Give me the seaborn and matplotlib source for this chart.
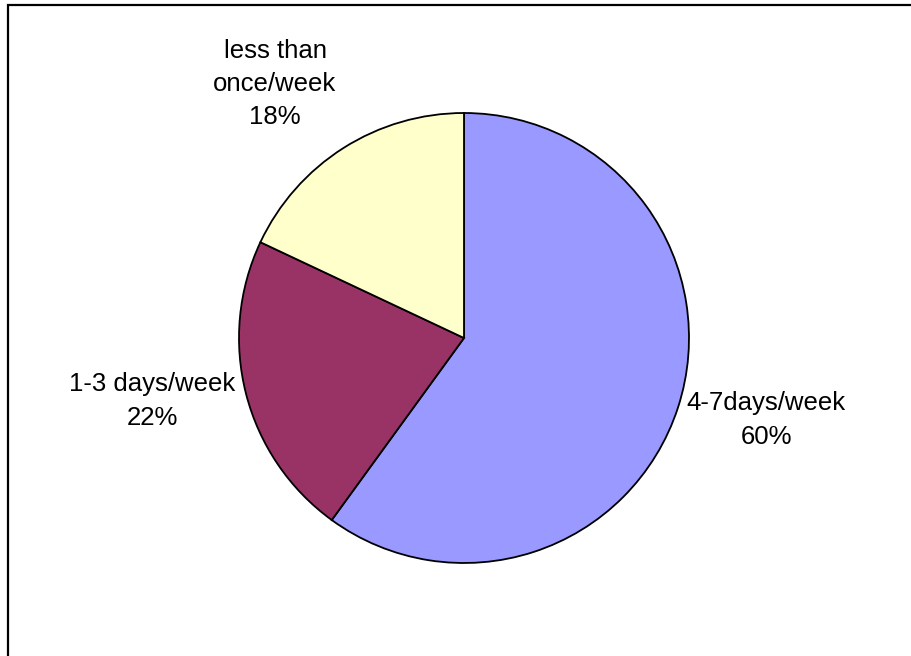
import matplotlib
matplotlib.use("Agg")
import matplotlib.pyplot as plt
import seaborn as sns
from matplotlib.patches import Rectangle

# Exercise frequency shares
categories = ["4-7days/week", "1-3 days/week", "less than\nonce/week"]
shares = [60, 22, 18]
colors = ["#9999FF", "#993366", "#FFFFCC"]

sns.set_theme(style="white")
plt.rcParams["font.family"] = ["Liberation Sans", "DejaVu Sans"]

W, H = 911, 656
fig = plt.figure(figsize=(W / 100, H / 100), dpi=100)
ax = fig.add_axes([0, 0, 1, 1])

cx, cy, r = 464, H - 338, 225
ax.pie(shares, colors=colors, startangle=90, counterclock=False,
       center=(cx, cy), radius=r, frame=True,
       wedgeprops=dict(edgecolor="black", linewidth=1.3))
ax.set_xlim(0, W)
ax.set_ylim(0, H)
ax.set_aspect("equal")
ax.axis("off")

# label anchor points (pixel coords from top-left)
label_pos = [(766, 420), (152, 401), (275, 84)]
for name, val, (lx, ly) in zip(categories, shares, label_pos):
    ax.text(lx, H - ly, f"{name}\n{val}%", ha="center", va="center",
            fontsize=18.5, color="black", linespacing=1.5)

# chart border (open to the right and bottom)
fig.patches.append(Rectangle((7.5 / W, -0.1), 1.2, (H - 5) / H + 0.1,
                             transform=fig.transFigure, fill=False,
                             edgecolor="black", linewidth=1.6))

fig.savefig("out.png", dpi=100)
